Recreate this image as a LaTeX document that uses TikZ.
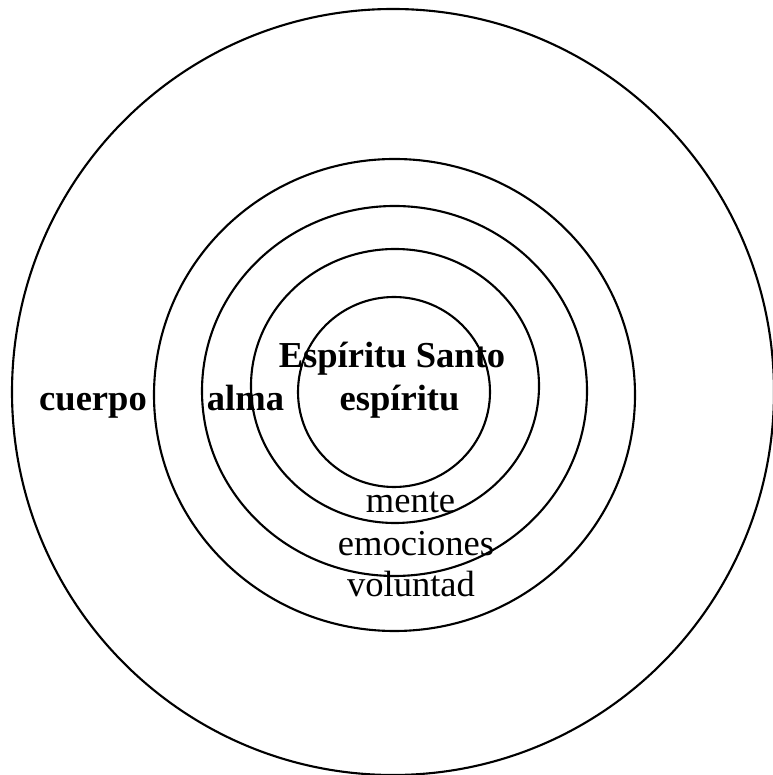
\documentclass[tikz,border=0pt]{standalone}
\usepackage{fontspec}
\setmainfont{Liberation Serif}
\usetikzlibrary{positioning}

\begin{document}
\begin{tikzpicture}[
  ring/.style={draw=black, line width=1.2pt},
  boldlabel/.style={font=\fontsize{20.8}{24}\selectfont\bfseries, anchor=base, inner sep=0pt},
  plainlabel/.style={font=\fontsize{20.8}{24}\selectfont, anchor=base, inner sep=0pt}
]
\useasboundingbox (0,0) rectangle (15.44,15.5);

% ── Rings ─────────────────────────────────────────────────────────────────
\draw[ring] (7.86,7.66) ellipse [x radius=7.62, y radius=7.66];
\draw[ring] (7.89,7.60) ellipse [x radius=4.81, y radius=4.72];
\draw[ring] (7.89,7.68) ellipse [x radius=3.85, y radius=3.70];
\draw[ring] (7.90,7.78) ellipse [x radius=2.88, y radius=2.74];
\draw[ring] (7.88,7.66) ellipse [x radius=1.92, y radius=1.90];

% ── Labels ────────────────────────────────────────────────────────────────
\node[boldlabel] (santo)   at (7.84,8.14) {Espíritu Santo};
\node[boldlabel] (espiritu) at (7.99,7.28) {espíritu};
\node[boldlabel] (cuerpo)  at (1.86,7.28) {cuerpo};
\node[boldlabel] (alma)    at (4.91,7.28) {alma};

\node[plainlabel] (mente)     at (8.21,5.24) {mente};
\node[plainlabel] (emociones) at (8.32,4.38) {emociones};
\node[plainlabel] (voluntad)  at (8.22,3.56) {voluntad};

\end{tikzpicture}
\end{document}
